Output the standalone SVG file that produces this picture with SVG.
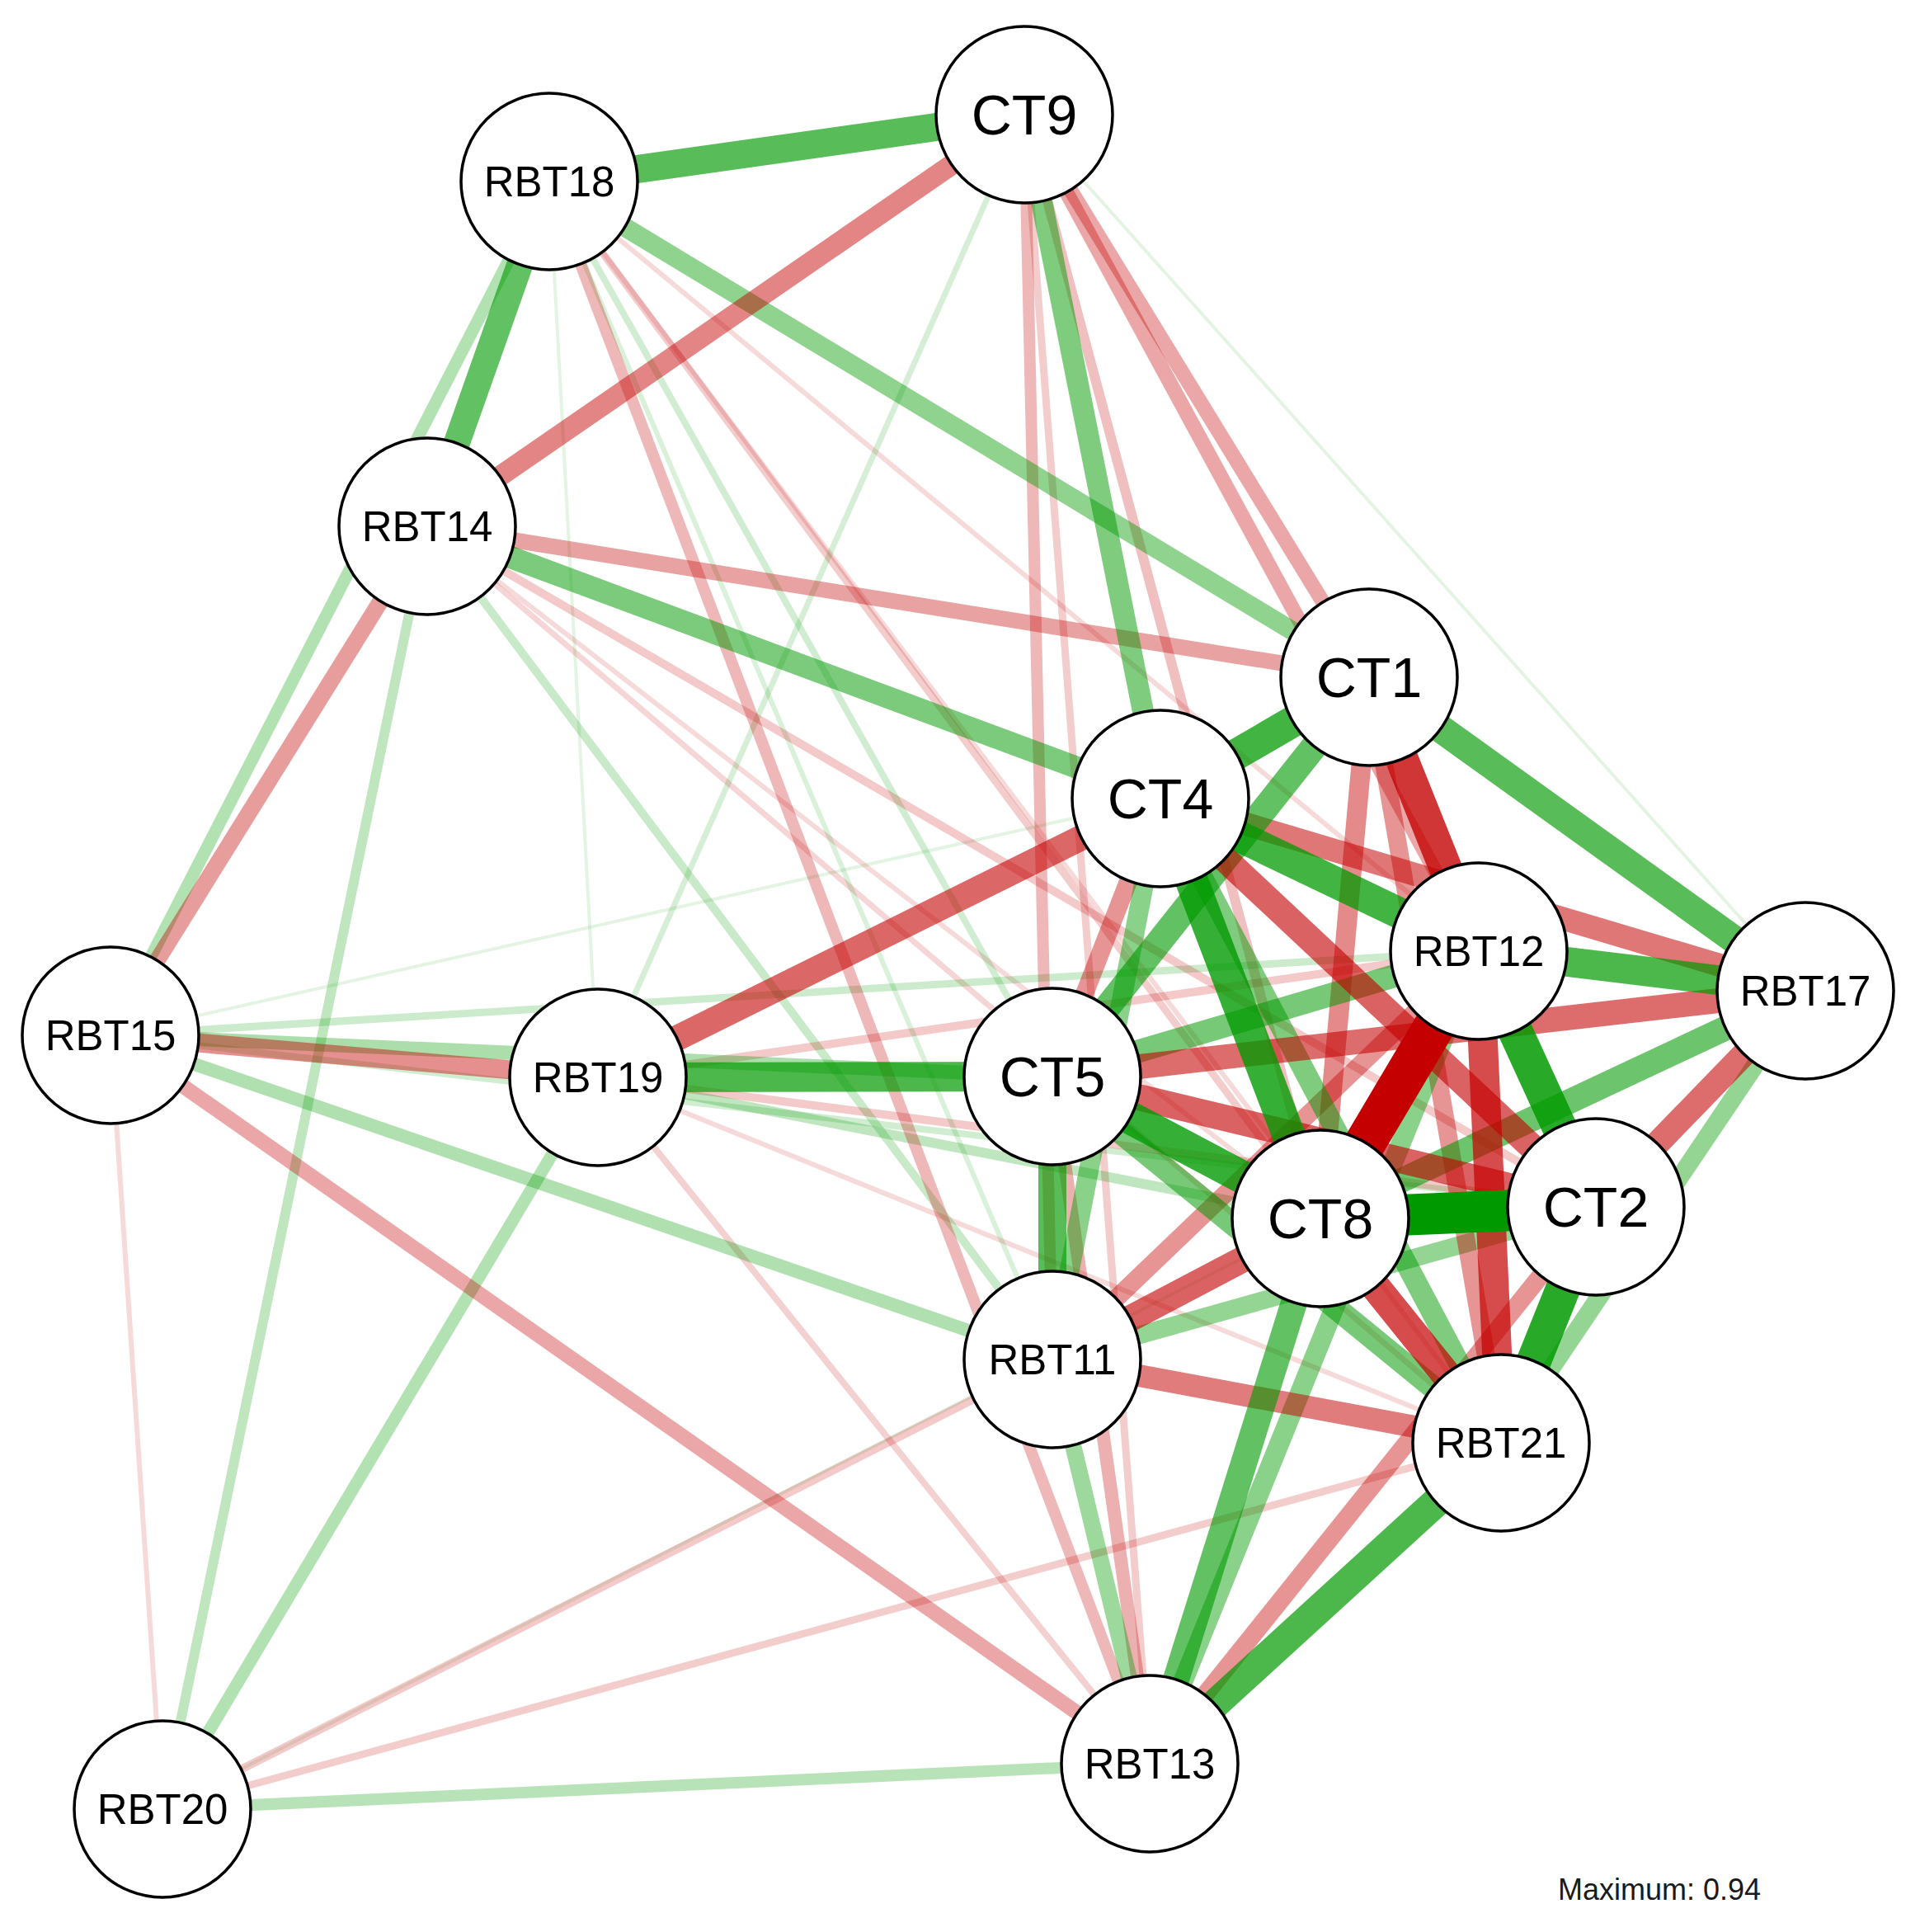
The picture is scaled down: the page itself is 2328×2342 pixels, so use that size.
<svg xmlns="http://www.w3.org/2000/svg" width="2328" height="2342" viewBox="0 0 2328 2342">
<style>
.e{fill:none;stroke-linecap:butt}
.p{stroke:#009a00}
.n{stroke:#c40000}
.w4{stroke-width:4;stroke-opacity:.11}
.w6{stroke-width:6;stroke-opacity:.15}
.w7{stroke-width:7;stroke-opacity:.165}
.w8{stroke-width:8;stroke-opacity:.18}
.w9{stroke-width:9;stroke-opacity:.2}
.w10{stroke-width:10;stroke-opacity:.21}
.w12{stroke-width:12;stroke-opacity:.25}
.w14{stroke-width:14;stroke-opacity:.28}
.w15{stroke-width:15;stroke-opacity:.3}
.w16{stroke-width:16;stroke-opacity:.31}
.w17{stroke-width:17;stroke-opacity:.33}
.w18{stroke-width:18;stroke-opacity:.345}
.w19{stroke-width:19;stroke-opacity:.365}
.w20{stroke-width:20;stroke-opacity:.385}
.w22{stroke-width:22;stroke-opacity:.42}
.w23{stroke-width:23;stroke-opacity:.44}
.w24{stroke-width:24;stroke-opacity:.46}
.w25{stroke-width:25;stroke-opacity:.48}
.w26{stroke-width:26;stroke-opacity:.5}
.w27{stroke-width:27;stroke-opacity:.515}
.w28{stroke-width:28;stroke-opacity:.535}
.w30{stroke-width:30;stroke-opacity:.575}
.w31{stroke-width:31;stroke-opacity:.595}
.w32{stroke-width:32;stroke-opacity:.615}
.w34{stroke-width:34;stroke-opacity:.655}
.w36{stroke-width:36;stroke-opacity:.7}
.w38{stroke-width:38;stroke-opacity:.745}
.w40{stroke-width:40;stroke-opacity:.79}
.w42{stroke-width:42;stroke-opacity:.845}
.w50{stroke-width:50;stroke-opacity:1}
.node circle{fill:#ffffff;stroke:#000000;stroke-width:3.5}
.node text{font-family:"Liberation Sans",Arial,sans-serif;text-anchor:middle;fill:#000000}
.rb{font-size:51px}
.ct{font-size:68px}
.legend{font-family:"Liberation Sans",Arial,sans-serif;font-size:36px;fill:#1a1a1a}
</style>
<rect width="2328" height="2342" fill="#ffffff"/>
<g id="edges">
<line class="e p w4" x1="197" y1="2193" x2="1601" y2="1477"/>
<line class="e p w4" x1="134" y1="1255" x2="1407" y2="968"/>
<line class="e p w4" x1="666" y1="220" x2="725" y2="1306"/>
<line class="e p w4" x1="1242" y1="139" x2="2189" y2="1201"/>
<line class="e p w6" x1="666" y1="220" x2="1276" y2="1648"/>
<line class="e n w6" x1="666" y1="220" x2="1793" y2="1153"/>
<line class="e n w6" x1="518" y1="638" x2="1601" y2="1477"/>
<line class="e n w6" x1="134" y1="1255" x2="197" y2="2193"/>
<line class="e n w6" x1="666" y1="220" x2="1820" y2="1749"/>
<line class="e n w6" x1="725" y1="1306" x2="1820" y2="1749"/>
<line class="e p w7" x1="1242" y1="139" x2="725" y2="1306"/>
<line class="e n w7" x1="518" y1="638" x2="1820" y2="1749"/>
<line class="e p w8" x1="134" y1="1255" x2="1935" y2="1463"/>
<line class="e p w8" x1="666" y1="220" x2="1276" y2="1305"/>
<line class="e n w8" x1="725" y1="1306" x2="1394" y2="2138"/>
<line class="e p w9" x1="134" y1="1255" x2="1793" y2="1153"/>
<line class="e n w9" x1="197" y1="2193" x2="1820" y2="1749"/>
<line class="e n w9" x1="1242" y1="139" x2="1394" y2="2138"/>
<line class="e n w9" x1="666" y1="220" x2="1601" y2="1477"/>
<line class="e p w10" x1="518" y1="638" x2="1276" y2="1648"/>
<line class="e n w10" x1="725" y1="1306" x2="1793" y2="1153"/>
<line class="e n w10" x1="725" y1="1306" x2="1935" y2="1463"/>
<line class="e n w10" x1="197" y1="2193" x2="1276" y2="1648"/>
<line class="e n w10" x1="518" y1="638" x2="1935" y2="1463"/>
<line class="e p w12" x1="518" y1="638" x2="197" y2="2193"/>
<line class="e p w12" x1="725" y1="1306" x2="1601" y2="1477"/>
<line class="e n w12" x1="1242" y1="139" x2="1601" y2="1477"/>
<line class="e p w14" x1="197" y1="2193" x2="1394" y2="2138"/>
<line class="e n w14" x1="666" y1="220" x2="1394" y2="2138"/>
<line class="e n w14" x1="1242" y1="139" x2="1276" y2="1648"/>
<line class="e p w15" x1="666" y1="220" x2="134" y2="1255"/>
<line class="e p w15" x1="725" y1="1306" x2="197" y2="2193"/>
<line class="e p w16" x1="134" y1="1255" x2="1276" y2="1648"/>
<line class="e n w16" x1="1276" y1="1305" x2="1394" y2="2138"/>
<line class="e p w17" x1="134" y1="1255" x2="1276" y2="1305"/>
<line class="e n w18" x1="1242" y1="139" x2="1660" y2="821"/>
<line class="e n w18" x1="1242" y1="139" x2="1793" y2="1153"/>
<line class="e n w18" x1="134" y1="1255" x2="1394" y2="2138"/>
<line class="e n w19" x1="518" y1="638" x2="1660" y2="821"/>
<line class="e p w20" x1="1276" y1="1648" x2="1394" y2="2138"/>
<line class="e n w20" x1="518" y1="638" x2="134" y2="1255"/>
<line class="e p w22" x1="1820" y1="1749" x2="2189" y2="1201"/>
<line class="e p w22" x1="1276" y1="1648" x2="1935" y2="1463"/>
<line class="e n w22" x1="1276" y1="1648" x2="1793" y2="1153"/>
<line class="e n w22" x1="1660" y1="821" x2="1820" y2="1749"/>
<line class="e n w22" x1="1935" y1="1463" x2="1394" y2="2138"/>
<line class="e n w22" x1="1407" y1="968" x2="1276" y2="1305"/>
<line class="e p w23" x1="666" y1="220" x2="1660" y2="821"/>
<line class="e n w23" x1="134" y1="1255" x2="725" y2="1306"/>
<line class="e p w24" x1="1407" y1="968" x2="1276" y2="1648"/>
<line class="e p w24" x1="1793" y1="1153" x2="1394" y2="2138"/>
<line class="e n w24" x1="1660" y1="821" x2="1601" y2="1477"/>
<line class="e n w25" x1="1242" y1="139" x2="518" y2="638"/>
<line class="e p w26" x1="1242" y1="139" x2="1407" y2="968"/>
<line class="e p w26" x1="1407" y1="968" x2="1820" y2="1749"/>
<line class="e p w27" x1="518" y1="638" x2="1407" y2="968"/>
<line class="e n w27" x1="1276" y1="1648" x2="1820" y2="1749"/>
<line class="e p w28" x1="1276" y1="1305" x2="1793" y2="1153"/>
<line class="e p w28" x1="1276" y1="1305" x2="1820" y2="1749"/>
<line class="e n w28" x1="1407" y1="968" x2="2189" y2="1201"/>
<line class="e p w30" x1="1601" y1="1477" x2="2189" y2="1201"/>
<line class="e n w30" x1="1276" y1="1305" x2="2189" y2="1201"/>
<line class="e n w30" x1="1935" y1="1463" x2="2189" y2="1201"/>
<line class="e n w31" x1="1407" y1="968" x2="725" y2="1306"/>
<line class="e p w32" x1="1601" y1="1477" x2="1394" y2="2138"/>
<line class="e p w32" x1="666" y1="220" x2="518" y2="638"/>
<line class="e p w32" x1="1660" y1="821" x2="1276" y2="1305"/>
<line class="e n w32" x1="1276" y1="1305" x2="1935" y2="1463"/>
<line class="e n w32" x1="1407" y1="968" x2="1935" y2="1463"/>
<line class="e n w32" x1="1276" y1="1648" x2="1601" y2="1477"/>
<line class="e p w34" x1="1660" y1="821" x2="2189" y2="1201"/>
<line class="e p w34" x1="666" y1="220" x2="1242" y2="139"/>
<line class="e p w34" x1="1276" y1="1305" x2="1276" y2="1648"/>
<line class="e p w36" x1="1820" y1="1749" x2="1394" y2="2138"/>
<line class="e p w36" x1="725" y1="1306" x2="1276" y2="1305"/>
<line class="e p w36" x1="1793" y1="1153" x2="2189" y2="1201"/>
<line class="e n w36" x1="1601" y1="1477" x2="1820" y2="1749"/>
<line class="e n w36" x1="1793" y1="1153" x2="1820" y2="1749"/>
<line class="e p w38" x1="1660" y1="821" x2="1407" y2="968"/>
<line class="e p w38" x1="1407" y1="968" x2="1793" y2="1153"/>
<line class="e p w40" x1="1276" y1="1305" x2="1601" y2="1477"/>
<line class="e p w40" x1="1407" y1="968" x2="1601" y2="1477"/>
<line class="e n w40" x1="1660" y1="821" x2="1793" y2="1153"/>
<line class="e p w42" x1="1935" y1="1463" x2="1820" y2="1749"/>
<line class="e p w42" x1="1793" y1="1153" x2="1935" y2="1463"/>
<line class="e p w50" x1="1601" y1="1477" x2="1935" y2="1463"/>
<line class="e n w50" x1="1793" y1="1153" x2="1601" y2="1477"/>
</g>
<g id="node-CT9" class="node"><circle cx="1242" cy="139" r="107"/><text class="ct" x="1242" y="163">CT9</text></g>
<g id="node-RBT18" class="node"><circle cx="666" cy="220" r="107"/><text class="rb" x="666" y="238">RBT18</text></g>
<g id="node-RBT14" class="node"><circle cx="518" cy="638" r="107"/><text class="rb" x="518" y="656">RBT14</text></g>
<g id="node-CT1" class="node"><circle cx="1660" cy="821" r="107"/><text class="ct" x="1660" y="845">CT1</text></g>
<g id="node-CT4" class="node"><circle cx="1407" cy="968" r="107"/><text class="ct" x="1407" y="992">CT4</text></g>
<g id="node-RBT12" class="node"><circle cx="1793" cy="1153" r="107"/><text class="rb" x="1793" y="1171">RBT12</text></g>
<g id="node-RBT17" class="node"><circle cx="2189" cy="1201" r="107"/><text class="rb" x="2189" y="1219">RBT17</text></g>
<g id="node-RBT15" class="node"><circle cx="134" cy="1255" r="107"/><text class="rb" x="134" y="1273">RBT15</text></g>
<g id="node-RBT19" class="node"><circle cx="725" cy="1306" r="107"/><text class="rb" x="725" y="1324">RBT19</text></g>
<g id="node-CT5" class="node"><circle cx="1276" cy="1305" r="107"/><text class="ct" x="1276" y="1329">CT5</text></g>
<g id="node-CT8" class="node"><circle cx="1601" cy="1477" r="107"/><text class="ct" x="1601" y="1501">CT8</text></g>
<g id="node-CT2" class="node"><circle cx="1935" cy="1463" r="107"/><text class="ct" x="1935" y="1487">CT2</text></g>
<g id="node-RBT11" class="node"><circle cx="1276" cy="1648" r="107"/><text class="rb" x="1276" y="1666">RBT11</text></g>
<g id="node-RBT21" class="node"><circle cx="1820" cy="1749" r="107"/><text class="rb" x="1820" y="1767">RBT21</text></g>
<g id="node-RBT13" class="node"><circle cx="1394" cy="2138" r="107"/><text class="rb" x="1394" y="2156">RBT13</text></g>
<g id="node-RBT20" class="node"><circle cx="197" cy="2193" r="107"/><text class="rb" x="197" y="2211">RBT20</text></g>
<text class="legend" x="1889" y="2303">Maximum: 0.94</text>
</svg>
